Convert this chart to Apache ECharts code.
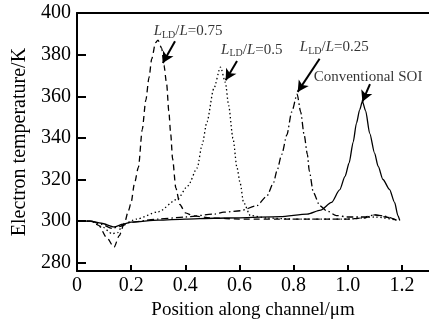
<!DOCTYPE html>
<html>
<head>
<meta charset="utf-8">
<script src="https://cdn.jsdelivr.net/npm/echarts@6/dist/echarts.min.js"></script>
<style>
  html, body { margin: 0; padding: 0; background: #fff; }
  #chart { width: 429px; height: 325px; }
</style>
</head>
<body>
<div id="chart"></div>
<script>
const xTicks = [0, 0.2, 0.4, 0.6, 0.8, 1.0, 1.2];
const yTicks = [280, 300, 320, 340, 360, 380, 400];

// L_LD/L = 0.75 (dashed)
const xDashed = [0, 0.05, 0.08, 0.11, 0.137, 0.156, 0.175, 0.19, 0.2, 0.212, 0.227, 0.241, 0.254, 0.266, 0.276, 0.29, 0.299, 0.313, 0.321, 0.331, 0.339, 0.346, 0.353, 0.365, 0.38, 0.4, 0.43, 0.5, 0.6, 0.8, 1.0, 1.06, 1.1, 1.14, 1.18];
const tDashed = [300, 300, 298, 292, 287.5, 293, 299, 305, 309, 318, 326, 344, 358, 369, 378, 385.7, 387, 383, 375, 366, 353, 342, 330, 316, 308, 304, 302.5, 301.5, 301, 301, 301, 301.5, 303, 302, 300.5];

// L_LD/L = 0.5 (dotted)
const xDotted = [0, 0.05, 0.09, 0.13, 0.15, 0.17, 0.22, 0.3, 0.37, 0.41, 0.444, 0.462, 0.48, 0.505, 0.53, 0.548, 0.56, 0.576, 0.591, 0.603, 0.615, 0.64, 0.7, 0.8, 1.0, 1.1, 1.18];
const tDotted = [300, 300, 297.5, 294, 294.5, 298.5, 301, 304.5, 310.5, 317, 325.6, 336.7, 347.7, 363.6, 374, 366.7, 355.6, 339.8, 325.6, 318, 309, 302.7, 301.5, 301, 301, 302, 300.5];

// L_LD/L = 0.25 (dash-dot)
const xDashDot = [0, 0.05, 0.09, 0.13, 0.16, 0.2, 0.3, 0.4, 0.509, 0.542, 0.603, 0.664, 0.701, 0.726, 0.738, 0.756, 0.775, 0.793, 0.813, 0.826, 0.839, 0.851, 0.858, 0.873, 0.897, 0.922, 0.958, 1.0, 1.06, 1.1, 1.13, 1.18];
const tDashDot = [300, 300, 298.5, 296.5, 297.5, 299.5, 301, 302, 303.4, 304.3, 305, 307.4, 312, 318.5, 324, 332, 341.4, 352.5, 361, 352.5, 341.4, 332, 324, 313.7, 307.4, 305, 302.7, 302, 302, 303, 302.5, 300.5];

// Conventional SOI (solid)
const xSolid = [0, 0.05, 0.09, 0.137, 0.17, 0.2, 0.3, 0.4, 0.505, 0.6, 0.75, 0.85, 0.9, 0.94, 0.97, 0.99, 1.005, 1.02, 1.032, 1.044, 1.054, 1.066, 1.081, 1.099, 1.112, 1.13, 1.154, 1.173, 1.185, 1.192];
const tSolid = [300, 300, 299, 297.2, 298.5, 299.5, 300.5, 301, 301.4, 301.6, 302.2, 303.4, 305.3, 309, 315, 321.5, 328, 338, 347, 353.5, 357.5, 353, 342.2, 332.7, 326.4, 320, 315.3, 309, 302.7, 300.3];

// annotations: label anchor (left edge, middle) and arrows, in data units
const labelText = ['0.75', '0.5', '0.25', 'Conventional SOI'];
const labelX = [0.283, 0.532, 0.823, 0.874];
const labelY = [391.4, 382.4, 383.4, 369.3];
const arrowTail = [[0.362, 386.4], [0.591, 376.9], [0.896, 378], [1.082, 365.8]];
const arrowTip = [[0.317, 376], [0.549, 367.7], [0.815, 362.1], [1.054, 357.4]];

const FONT = 'Liberation Serif';
const INK = '#000';

function pairs(xs, ys) {
  return xs.map((x, i) => [x, ys[i]]);
}

function curve(name, xs, ys, type) {
  return {
    name,
    type: 'line',
    data: pairs(xs, ys),
    symbol: 'none',
    smooth: 0.25,
    smoothMonotone: 'x',
    lineStyle: { color: INK, width: 1.3, type },
    z: 3,
  };
}

const chart = echarts.init(document.getElementById('chart'), null, { renderer: 'canvas' });

chart.setOption({
  animation: false,
  backgroundColor: '#fff',
  grid: { left: 77, top: 13, right: -2, bottom: 51, containLabel: false },
  xAxis: [
    {
      type: 'value',
      min: 0,
      max: 1.3,
      name: 'Position along channel/\u03bcm',
      nameLocation: 'middle',
      nameGap: 24,
      nameTextStyle: { fontFamily: FONT, fontSize: 19, color: INK },
      axisLine: { show: true, onZero: false, lineStyle: { color: INK, width: 2 } },
      axisTick: { show: true, inside: true, length: 6, lineStyle: { color: INK, width: 2 }, customValues: xTicks },
      axisLabel: {
        fontFamily: FONT, fontSize: 20, color: INK, margin: 5,
        customValues: xTicks,
        formatter: (v) => (v === 0 ? '0' : v.toFixed(1)),
      },
      splitLine: { show: false },
    },
    {
      type: 'value',
      position: 'top',
      min: 0,
      max: 1.3,
      axisLine: { show: true, onZero: false, lineStyle: { color: INK, width: 2 } },
      axisTick: { show: false },
      axisLabel: { show: false },
      splitLine: { show: false },
    },
  ],
  yAxis: {
    type: 'value',
    min: 276,
    max: 400,
    name: 'Electron temperature/K',
    nameLocation: 'middle',
    nameGap: 37,
    nameTextStyle: { fontFamily: FONT, fontSize: 20, color: INK },
    axisLine: { show: true, onZero: false, lineStyle: { color: INK, width: 2 } },
    axisTick: { show: true, inside: true, length: 9, lineStyle: { color: INK, width: 2 }, customValues: yTicks },
    axisLabel: { fontFamily: FONT, fontSize: 20, color: INK, margin: 6, customValues: yTicks },
    splitLine: { show: false },
  },
  series: [
    curve('L_LD/L=0.75', xDashed, tDashed, [6, 4]),
    curve('L_LD/L=0.5', xDotted, tDotted, [1.4, 2.6]),
    curve('L_LD/L=0.25', xDashDot, tDashDot, [7, 3, 1.5, 3]),
    curve('Conventional SOI', xSolid, tSolid, 'solid'),
    {
      name: 'labels',
      type: 'scatter',
      symbolSize: 0,
      silent: true,
      data: labelText.map((t, i) => [labelX[i], labelY[i], t]),
      label: {
        show: true,
        position: 'right',
        distance: 0,
        color: INK,
        fontFamily: FONT,
        formatter: (p) => {
          const t = p.data[2];
          if (t.indexOf('Conventional') === 0) return '{n|' + t + '}';
          return '{i|L}{s|LD}{n|/}{i|L}{n|=' + t + '}';
        },
        rich: {
          n: { fontFamily: FONT, fontSize: 15, color: INK, lineHeight: 18, verticalAlign: 'middle' },
          i: { fontFamily: FONT, fontSize: 15, color: INK, fontStyle: 'italic', lineHeight: 18, verticalAlign: 'middle' },
          s: { fontFamily: FONT, fontSize: 10, color: INK, lineHeight: 10, verticalAlign: 'bottom' },
        },
      },
      markLine: {
        silent: true,
        symbol: ['none', 'arrow'],
        symbolSize: [9, 11],
        label: { show: false },
        lineStyle: { color: INK, width: 2, type: 'solid' },
        data: arrowTail.map((a, i) => [{ coord: a }, { coord: arrowTip[i] }]),
      },
      z: 5,
    },
  ],
});
</script>
</body>
</html>
